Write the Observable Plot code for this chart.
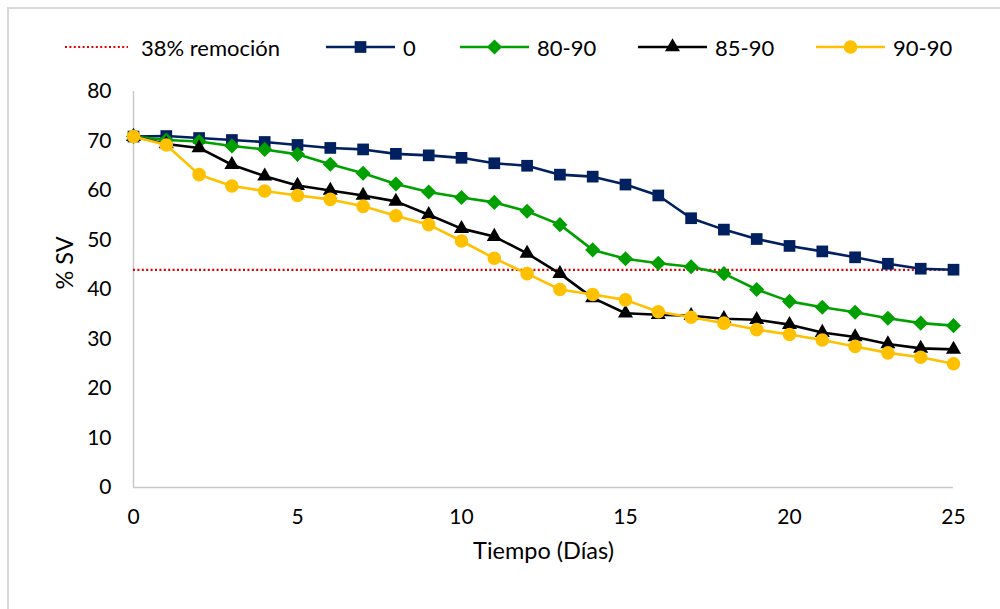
<!DOCTYPE html>
<html>
<head>
<meta charset="utf-8">
<script src="https://cdn.jsdelivr.net/npm/d3@7"></script>
<script src="https://cdn.jsdelivr.net/npm/@observablehq/plot@0.6"></script>
<style>
  html, body { margin: 0; padding: 0; background: #fff; }
  #wrap { position: relative; width: 1000px; height: 609px; overflow: hidden; font-family: Lato, "Open Sans", sans-serif; }
  #frame { position: absolute; left: 7px; top: 7px; width: 1100px; height: 700px; border-top: 2px solid #d9d9d9; border-left: 2px solid #d9d9d9; box-sizing: border-box; }
  #chart { position: absolute; left: 0; top: 0; }
  .item { position: absolute; top: 35px; height: 24px; display: flex; align-items: center; font-size: 22px; color: #000; white-space: nowrap; }
  .item svg { margin-right: 7px; overflow: visible; }
</style>
</head>
<body>
<div id="wrap">
  <div id="frame"></div>
  <div id="chart"></div>
  <div id="legend"></div>
</div>
<script>
// Days of the trial
const dias = [0, 1, 2, 3, 4, 5, 6, 7, 8, 9, 10, 11, 12, 13, 14, 15, 16, 17, 18, 19, 20, 21, 22, 23, 24, 25];

// % SV per treatment
const sv0 = [70.9, 71.0, 70.6, 70.2, 69.8, 69.2, 68.6, 68.3, 67.4, 67.1, 66.6, 65.5, 65.0, 63.2, 62.8, 61.2,
             59.0, 54.4, 52.1, 50.2, 48.8, 47.7, 46.5, 45.2, 44.2, 44.0];
const sv8090 = [70.9, 70.2, 69.9, 69.0, 68.3, 67.3, 65.3, 63.5, 61.3, 59.7, 58.6, 57.6, 55.8, 53.1, 48.0, 46.2,
                45.3, 44.6, 43.2, 40.0, 37.6, 36.4, 35.4, 34.2, 33.2, 32.7];
const sv8590 = [70.9, 69.4, 68.6, 65.2, 62.9, 61.0, 60.0, 59.0, 57.8, 55.1, 52.3, 50.7, 47.3, 43.2, 38.3, 35.2,
                34.9, 34.7, 34.1, 33.9, 32.9, 31.3, 30.4, 29.0, 28.1, 27.9];
const sv9090 = [70.9, 69.2, 63.2, 60.9, 59.9, 59.0, 58.2, 56.8, 54.9, 53.1, 49.8, 46.3, 43.2, 40.0, 39.0, 37.9,
                35.5, 34.4, 33.2, 31.9, 30.9, 29.8, 28.5, 27.2, 26.3, 25.0];

// 38 % removal threshold (62 % of the initial value)
const remocion = 43.96;
const remocionLabel = "38% remoción";

const seriesNames = ["0", "80-90", "85-90", "90-90"];
const seriesValues = [sv0, sv8090, sv8590, sv9090];
const seriesColors = ["#002060", "#00A000", "#000000", "#FFC000"];
const seriesSymbols = ["square", "diamond2", "triangle", "circle"];
const seriesRadius = [6.6, 6.8, 5.6, 6.8];

const xTicks = [0, 5, 10, 15, 20, 25];
const yTicks = [0, 10, 20, 30, 40, 50, 60, 70, 80];
const xLabel = "Tiempo (Días)";
const yLabel = "% SV";

const rows = seriesNames.map((name, i) => dias.map((d, j) => ({serie: name, dia: d, sv: seriesValues[i][j]})));

const marks = [
  Plot.ruleY([0], {x1: 0, x2: 25, stroke: "#c8c8c8", strokeWidth: 1.5}),
  Plot.ruleX([0], {y1: 0, y2: 80, stroke: "#c8c8c8", strokeWidth: 1.5}),
  Plot.ruleY([remocion], {x1: 0, x2: 25, stroke: "#E00000", strokeWidth: 2.2, strokeDasharray: "2,2.4"})
];
rows.forEach((data, i) => {
  marks.push(Plot.line(data, {x: "dia", y: "sv", stroke: seriesColors[i], strokeWidth: 2.6}));
  marks.push(Plot.dot(data, {x: "dia", y: "sv", fill: seriesColors[i], stroke: "none",
    symbol: () => seriesSymbols[i], r: seriesRadius[i]}));
});
marks.push(
  Plot.axisX({ticks: xTicks, tickSize: 0, tickPadding: 22, label: null, fontSize: 21}),
  Plot.axisY({ticks: yTicks, tickSize: 0, tickPadding: 22, label: null, fontSize: 21}),
  Plot.text([xLabel], {frameAnchor: "bottom", dy: 71, fontSize: 23.5}),
  Plot.text([yLabel], {frameAnchor: "left", dx: -68, rotate: -90, fontSize: 23.5})
);

const chart = Plot.plot({
  width: 1000,
  height: 609,
  marginTop: 91,
  marginBottom: 122,
  marginLeft: 133,
  marginRight: 47,
  x: {domain: [0, 25]},
  y: {domain: [0, 80]},
  style: {fontFamily: "Lato, 'Open Sans', sans-serif", color: "#000", background: "transparent", overflow: "visible"},
  marks
});
document.getElementById("chart").appendChild(chart);

// Legend row above the plot area
const legend = d3.select("#legend");
const items = [{label: remocionLabel, dotted: true, color: "#E00000", left: 64}]
  .concat(seriesNames.map((n, i) => ({label: n, color: seriesColors[i], symbol: seriesSymbols[i], r: seriesRadius[i], left: [326, 460, 638, 816][i]})));
const symbolMap = {square: d3.symbolSquare, diamond2: d3.symbolDiamond2, triangle: d3.symbolTriangle, circle: d3.symbolCircle};
items.forEach(it => {
  const div = legend.append("div").attr("class", "item").style("left", it.left + "px");
  const svg = div.append("svg").attr("width", 70).attr("height", 24);
  if (it.dotted) {
    svg.append("line").attr("x1", 1).attr("x2", 64).attr("y1", 12).attr("y2", 12)
      .attr("stroke", it.color).attr("stroke-width", 2.2).attr("stroke-dasharray", "2,2.4");
  } else {
    svg.append("line").attr("x1", 0).attr("x2", 69).attr("y1", 12).attr("y2", 12)
      .attr("stroke", it.color).attr("stroke-width", 2.6);
    svg.append("path").attr("transform", "translate(34.5,12)")
      .attr("d", d3.symbol(symbolMap[it.symbol], Math.PI * it.r * it.r)())
      .attr("fill", it.color);
  }
  div.append("span").text(it.label);
});
</script>
</body>
</html>
